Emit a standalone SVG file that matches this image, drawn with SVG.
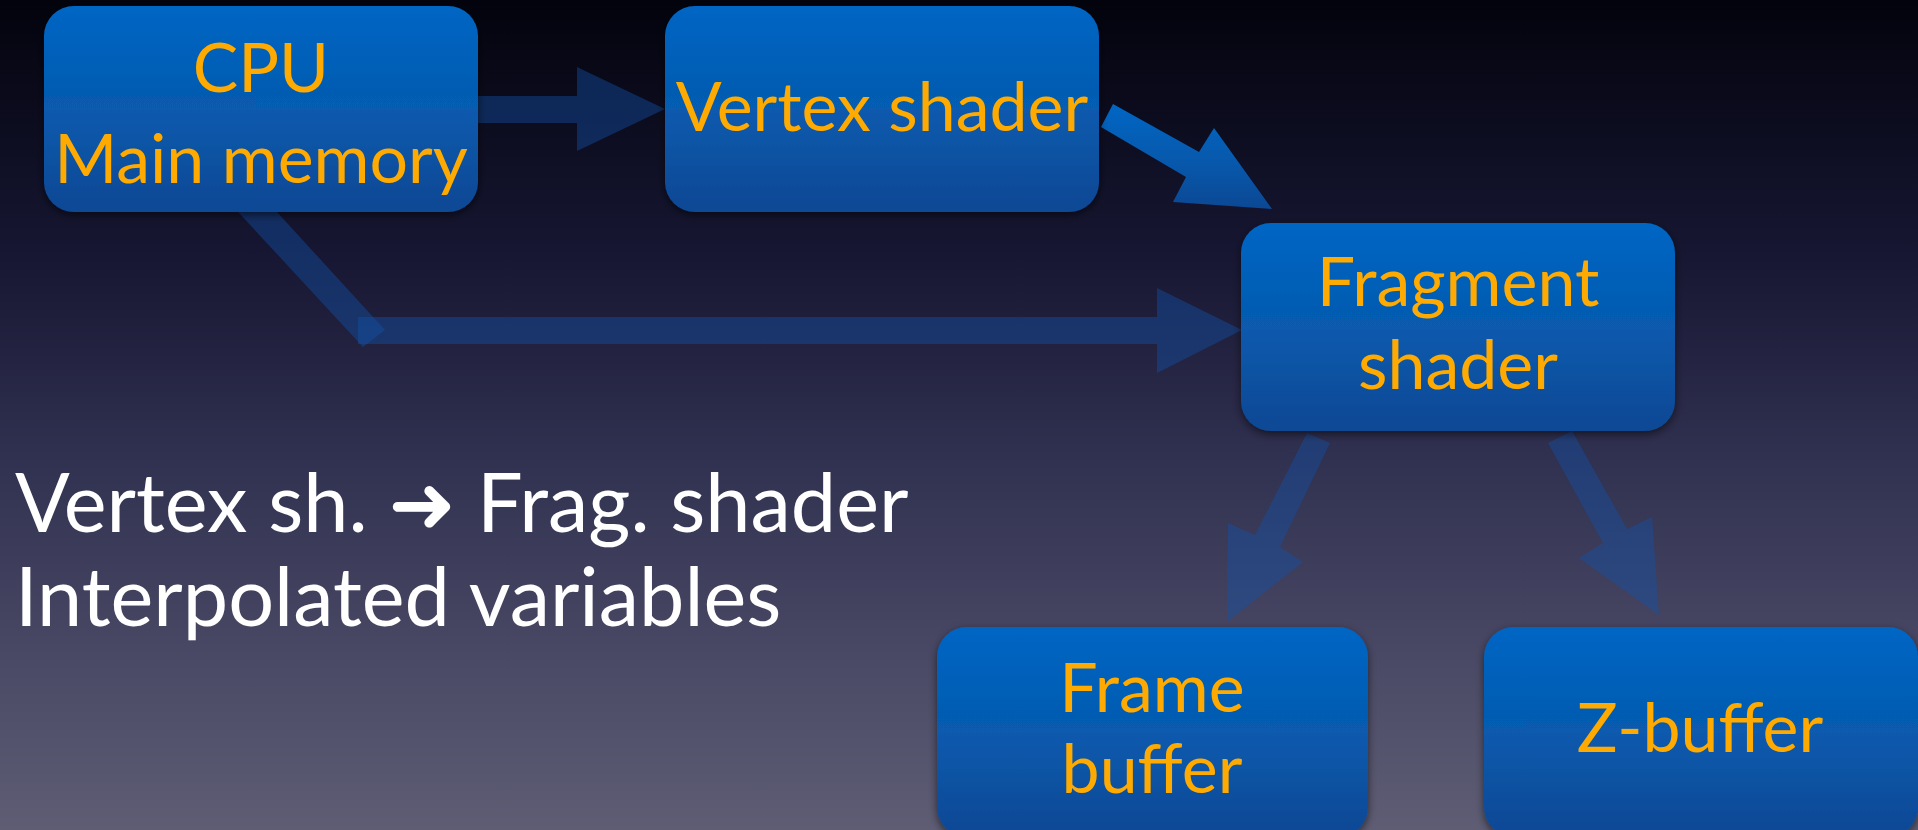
<svg xmlns="http://www.w3.org/2000/svg" width="1918" height="830" viewBox="0 0 1918 830">
  <defs>
    <linearGradient id="bg" x1="0" y1="0" x2="0" y2="1">
      <stop offset="0" stop-color="#03030d"/>
      <stop offset="0.3" stop-color="#161632"/>
      <stop offset="0.55" stop-color="#303050"/>
      <stop offset="0.8" stop-color="#4a4a66"/>
      <stop offset="1" stop-color="#5e5d74"/>
    </linearGradient>
    <linearGradient id="boxg" x1="0" y1="0" x2="0" y2="1">
      <stop offset="0" stop-color="#0066c4"/>
      <stop offset="0.5" stop-color="#075aae"/>
      <stop offset="1" stop-color="#0b4894"/>
    </linearGradient>
    <filter id="sh" x="-10%" y="-10%" width="120%" height="130%">
      <feDropShadow dx="0" dy="3" stdDeviation="4" flood-color="#000" flood-opacity="0.55"/>
    </filter>
    <style>
      .box { fill: url(#boxg); filter: url(#sh); }
      .lbl { font-family: Lato, "Liberation Sans", sans-serif; font-size: 68px; fill: #ffaa00; text-anchor: middle; }
      .body { font-family: Lato, "Liberation Sans", "DejaVu Sans", sans-serif; font-size: 81px; fill: #ffffff; }
      .arr { fill: #1250a8; fill-opacity: 0.43; }
      .arrb { fill: url(#boxg); }
    </style>
  </defs>
  <rect x="0" y="0" width="1918" height="830" fill="url(#bg)"/>

  <g id="connectors">
    <polygon class="arr" points="478,96 577,96 577,67 665,109 577,151 577,123 478,123"/>
    <polygon class="arr" points="227,200 266,200 385,330 363,347"/>
    <polygon class="arr" points="358,317 1157,317 1157,288 1242,330 1157,373 1157,344 358,344"/>
    <polygon class="arrb" points="1113,104 1199,152 1214,128 1272,209 1173,202 1186,177 1101,127"/>
    <polygon class="arr" points="1307,433 1330,443 1280,547 1303,562 1227,622 1228,523 1255,535"/>
    <polygon class="arr" points="1548,443 1572,431 1627,529 1652,517 1659,615 1579,558 1603,543"/>
  </g>

  <g id="cpu">
    <rect class="box" x="44" y="6" width="434" height="206" rx="30"/>
    <text class="lbl" x="261" y="92">CPU</text>
    <text class="lbl" x="261" y="183">Main memory</text>
  </g>
  <g id="vertex">
    <rect class="box" x="665" y="6" width="434" height="206" rx="30"/>
    <text class="lbl" x="882" y="131">Vertex shader</text>
  </g>
  <g id="fragment">
    <rect class="box" x="1241" y="223" width="434" height="208" rx="30"/>
    <text class="lbl" x="1458" y="306">Fragment</text>
    <text class="lbl" x="1458" y="389">shader</text>
  </g>
  <g id="frame">
    <rect class="box" x="937" y="627" width="431" height="210" rx="30"/>
    <text class="lbl" x="1152" y="712">Frame</text>
    <text class="lbl" x="1152" y="793">buffer</text>
  </g>
  <g id="zbuffer">
    <rect class="box" x="1484" y="627" width="434" height="210" rx="30"/>
    <text class="lbl" x="1700" y="752">Z-buffer</text>
  </g>

  <g id="caption">
    <text class="body" x="15" y="532">Vertex sh. ➜ Frag. shader</text>
    <text class="body" x="15" y="626">Interpolated variables</text>
  </g>
</svg>
